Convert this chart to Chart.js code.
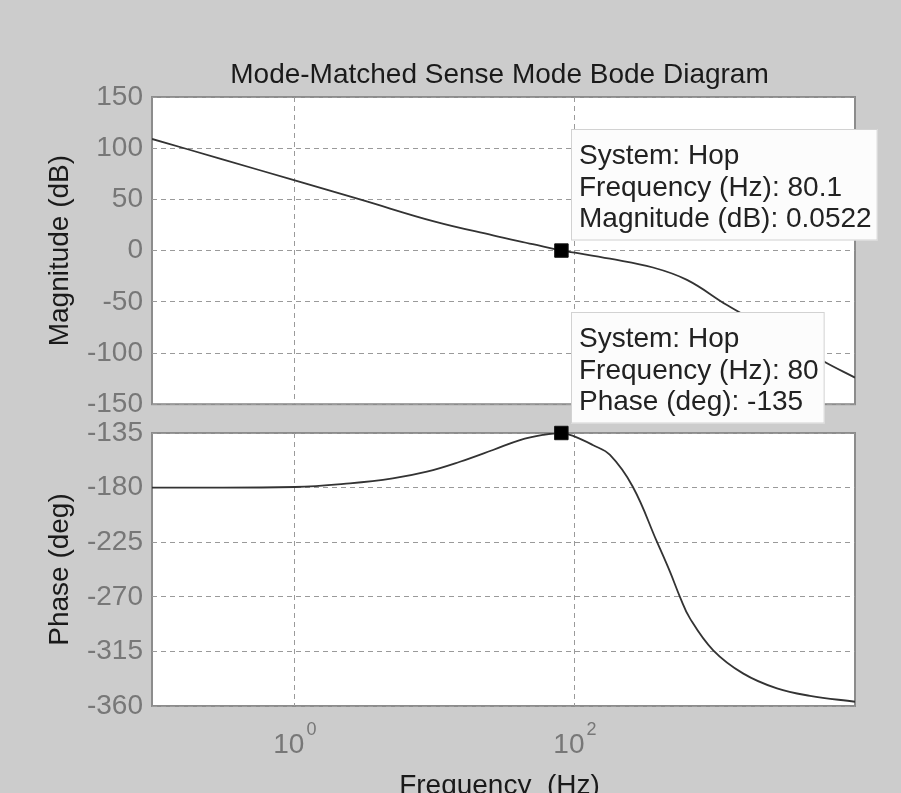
<!DOCTYPE html>
<html lang="en">
<head>
<meta charset="UTF-8">
<title>Mode-Matched Sense Mode Bode Diagram</title>
<script src="https://cdn.jsdelivr.net/npm/chart.js@4"></script>
<style>
    html, body { margin: 0; padding: 0; background: #cccccc; }
    #wrap { position: relative; width: 901px; height: 793px; overflow: hidden; background: #cccccc; }
    canvas { position: absolute; left: 0; }
    #magCanvas { top: 0; }
    #phaseCanvas { top: 300px; }
</style>
</head>
<body>
<div id="wrap">
    <canvas id="magCanvas" width="901" height="430"></canvas>
    <canvas id="phaseCanvas" width="901" height="493"></canvas>
</div>
<script>
// open-loop response of the sense mode (Hz / dB / deg)
const magFreq = [0.0955, 0.3, 1, 3, 10, 26, 50, 80.1, 100, 178, 361, 631, 1218, 2000, 3162, 5907, 10000];
const magDb = [109, 89.4, 68.5, 49.5, 28.3, 14.9, 6.3, 0.0522, -2, -7.9, -16.5, -28.6, -53.2, -70, -85.5, -107.8, -124];

const phaseFreq = [0.0955, 1, 2.47, 5, 8.77, 15.1, 26, 40.5, 59, 80, 100, 134, 178, 259, 385, 477, 562, 663, 968, 1585, 2773, 4770, 10000];
const phaseDeg = [-180, -179.5, -176.5, -172.4, -166.9, -158.7, -149, -140.8, -136.6, -135, -138, -144.9, -153.1, -179.3, -224.6, -249.3, -270, -287.8, -313.9, -333.1, -345.5, -351.6, -356.5];

// axes
const freqRange = [0.0955, 10000];
const freqTicks = [1, 100];
const freqTickExp = ['0', '2'];
const magRange = [-150, 150];
const magStep = 50;
const phaseRange = [-360, -135];
const phaseStep = 45;

// data cursors
const magTip = { system: 'Hop', freq: 80.1, value: 0.0522 };
const phaseTip = { system: 'Hop', freq: 80, value: -135 };

const FONT = '"Liberation Sans", Arial, Helvetica, sans-serif';
Chart.defaults.font.family = FONT;
Chart.defaults.font.size = 28;

const toXY = (xs, ys) => xs.map((x, i) => ({ x: x, y: ys[i] }));

// white plot area with grey box
const plotFrame = {
    id: 'plotFrame',
    beforeDraw(chart) {
        const { ctx, chartArea: a } = chart;
        ctx.save();
        ctx.fillStyle = '#ffffff';
        ctx.fillRect(a.left, a.top, a.width, a.height);
        ctx.strokeStyle = '#8c8c8c';
        ctx.lineWidth = 2;
        ctx.strokeRect(a.left, a.top, a.width, a.height);
        ctx.restore();
    }
};

// MATLAB-style datatip box next to the cursor marker
const dataTip = {
    id: 'dataTip',
    afterDraw(chart, args, opts) {
        if (!opts.lines) return;
        const pt = chart.getDatasetMeta(1).data[0];
        const ctx = chart.ctx;
        ctx.save();
        ctx.font = '28px ' + FONT;
        const w = Math.max(...opts.lines.map(t => ctx.measureText(t).width)) + 14;
        const h = opts.lines.length * 31.5 + 17;
        const x = Math.round(pt.x + 10);
        const y = Math.round(pt.y - 10 - h);
        ctx.fillStyle = '#fcfcfc';
        ctx.fillRect(x, y, w, h);
        ctx.strokeStyle = '#d2d2d2';
        ctx.lineWidth = 1;
        ctx.strokeRect(x + 0.5, y + 0.5, w - 1, h - 1);
        ctx.fillStyle = '#222222';
        ctx.textBaseline = 'alphabetic';
        opts.lines.forEach((t, i) => ctx.fillText(t, x + 8, y + 35 + i * 31.5));
        ctx.restore();
    }
};

const plotTitle = {
    id: 'plotTitle',
    afterDraw(chart, args, opts) {
        if (!opts.text) return;
        const { ctx, chartArea: a } = chart;
        ctx.save();
        ctx.font = '28px ' + FONT;
        ctx.fillStyle = '#1a1a1a';
        ctx.textAlign = 'center';
        ctx.textBaseline = 'alphabetic';
        ctx.fillText(opts.text, (a.left + a.right) / 2 - 4, opts.y);
        ctx.restore();
    }
};

// 10^n tick labels and the frequency label under the phase plot
const freqAxisLabels = {
    id: 'freqAxisLabels',
    afterDraw(chart, args, opts) {
        if (!opts.show) return;
        const { ctx, chartArea: a } = chart;
        const xs = chart.scales.x;
        ctx.save();
        ctx.fillStyle = '#777777';
        ctx.textBaseline = 'alphabetic';
        ctx.textAlign = 'left';
        freqTicks.forEach((v, i) => {
            const px = xs.getPixelForValue(v);
            ctx.font = '28px ' + FONT;
            const wBase = ctx.measureText('10').width;
            ctx.font = '18px ' + FONT;
            const wExp = ctx.measureText(freqTickExp[i]).width;
            const x0 = px - (wBase + wExp + 2) / 2;
            ctx.font = '28px ' + FONT;
            ctx.fillText('10', x0, a.bottom + 47);
            ctx.font = '18px ' + FONT;
            ctx.fillText(freqTickExp[i], x0 + wBase + 2, a.bottom + 29);
        });
        ctx.font = '28px ' + FONT;
        ctx.fillStyle = '#1a1a1a';
        ctx.textAlign = 'center';
        ctx.fillText('Frequency  (Hz)', (a.left + a.right) / 2 - 4, a.bottom + 88);
        ctx.restore();
    }
};

function freqAxis() {
    return {
        type: 'logarithmic',
        min: freqRange[0],
        max: freqRange[1],
        afterBuildTicks(scale) { scale.ticks = freqTicks.map(v => ({ value: v })); },
        afterFit(scale) { scale.height = 0; },
        ticks: { display: false },
        grid: { color: '#9a9a9a', lineWidth: 1, drawTicks: false },
        border: { display: false, dash: [5, 4] }
    };
}

function valueAxis(range, step, label) {
    return {
        type: 'linear',
        min: range[0],
        max: range[1],
        afterFit(scale) { scale.width = 152; },
        ticks: { stepSize: step, color: '#777777', font: { size: 28 }, padding: 9 },
        grid: { color: '#9a9a9a', lineWidth: 1, drawTicks: false },
        border: { display: false, dash: [5, 4] },
        title: { display: true, text: label, color: '#1a1a1a', font: { size: 28 }, padding: { top: 43 } }
    };
}

function curveSet(points) {
    return {
        data: points,
        borderColor: '#333333',
        borderWidth: 1.8,
        pointRadius: 0,
        tension: 0.4,
        order: 2
    };
}

function cursorSet(tip) {
    return {
        data: [{ x: tip.freq, y: tip.value }],
        showLine: false,
        pointStyle: 'rect',
        pointRadius: 9.5,
        pointBackgroundColor: '#000000',
        pointBorderColor: '#111111',
        pointBorderWidth: 1,
        clip: false,
        order: 1
    };
}

const common = {
    responsive: false,
    animation: false,
    devicePixelRatio: 1,
    events: []
};

new Chart(document.getElementById('magCanvas'), {
    type: 'line',
    data: { datasets: [curveSet(toXY(magFreq, magDb)), cursorSet(magTip)] },
    options: {
        ...common,
        layout: { padding: { top: 97, left: 0, right: 46, bottom: 20 } },
        scales: { x: freqAxis(), y: valueAxis(magRange, magStep, 'Magnitude (dB)') },
        plugins: {
            legend: { display: false },
            tooltip: { enabled: false },
            plotTitle: { text: 'Mode-Matched Sense Mode Bode Diagram', y: 83 },
            dataTip: {
                lines: ['System: ' + magTip.system, 'Frequency (Hz): ' + magTip.freq, 'Magnitude (dB): ' + magTip.value]
            }
        }
    },
    plugins: [plotFrame, plotTitle, dataTip]
});

new Chart(document.getElementById('phaseCanvas'), {
    type: 'line',
    data: { datasets: [curveSet(toXY(phaseFreq, phaseDeg)), cursorSet(phaseTip)] },
    options: {
        ...common,
        layout: { padding: { top: 133, left: 0, right: 46, bottom: 87 } },
        scales: { x: freqAxis(), y: valueAxis(phaseRange, phaseStep, 'Phase (deg)') },
        plugins: {
            legend: { display: false },
            tooltip: { enabled: false },
            freqAxisLabels: { show: true },
            dataTip: {
                lines: ['System: ' + phaseTip.system, 'Frequency (Hz): ' + phaseTip.freq, 'Phase (deg): ' + phaseTip.value]
            }
        }
    },
    plugins: [plotFrame, freqAxisLabels, dataTip]
});
</script>
</body>
</html>
